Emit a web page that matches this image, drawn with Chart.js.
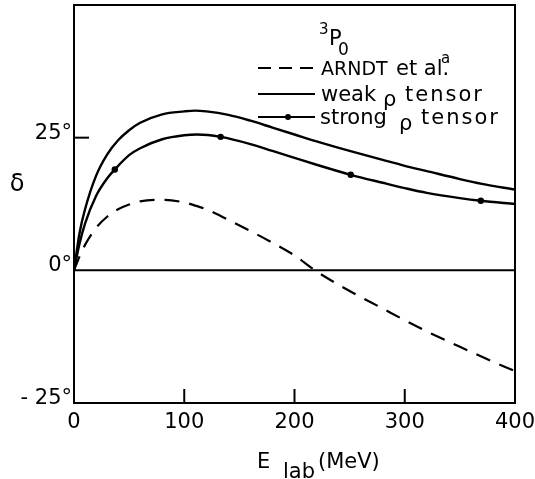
<!DOCTYPE html>
<html>
<head>
<meta charset="utf-8">
<script src="https://cdn.jsdelivr.net/npm/chart.js@4.4.1/dist/chart.umd.min.js"></script>
<style>
  body { margin: 0; background: #fff; }
  canvas { display: block; }
</style>
</head>
<body>
<canvas id="chart" width="535" height="479"></canvas>
<script>
// phase shift delta (deg) vs E_lab (MeV)
const energy = [0, 5, 10, 20, 30, 40, 50, 60, 80, 100, 110, 120, 140, 160, 180, 200, 220, 250, 280, 300, 320, 350, 370, 400];
const arndt = [0, 2.6, 4.8, 8.0, 10.1, 11.5, 12.4, 13.0, 13.3, 12.8, 12.2, 11.5, 9.5, 7.4, 5.2, 2.8, -0.2, -3.9, -7.2, -9.4, -11.5, -14.4, -16.3, -19.0];
const weakTensor = [0, 7.0, 11.5, 17.8, 21.8, 24.5, 26.4, 27.8, 29.4, 29.95, 30.1, 29.95, 29.3, 28.2, 26.9, 25.6, 24.3, 22.5, 20.8, 19.7, 18.7, 17.2, 16.3, 15.2];

const strongEnergy = [0, 5, 10, 20, 30, 37, 50, 60, 80, 100, 112, 133, 160, 180, 200, 220, 251, 280, 300, 320, 350, 369, 400];
const strongTensor = [0, 5.0, 8.8, 14.0, 17.3, 19.0, 21.7, 23.0, 24.7, 25.45, 25.6, 25.15, 23.8, 22.5, 21.2, 19.9, 18.0, 16.5, 15.5, 14.6, 13.6, 13.1, 12.5];
const strongMarks = [37, 133, 251, 369];

const xTicks = [0, 100, 200, 300, 400];
const yTicks = [-25, 0, 25];

const FONT = '"DejaVu Sans", sans-serif';

function pts(xs, ys) {
    return xs.map((x, i) => ({ x: x, y: ys[i] }));
}

// frame, zero line, inward ticks and all the lettering
const figurePlugin = {
    id: 'figure',
    beforeDatasetsDraw(chart) {
        const ctx = chart.ctx;
        const area = chart.chartArea;
        const xs = chart.scales.x;
        const ys = chart.scales.y;
        ctx.save();
        ctx.strokeStyle = '#000';
        ctx.lineWidth = 2;
        // zero line
        const y0 = ys.getPixelForValue(0);
        ctx.beginPath();
        ctx.moveTo(area.left, y0);
        ctx.lineTo(area.right, y0);
        ctx.stroke();
        // x ticks pointing up into the plot
        xTicks.slice(1, -1).forEach(v => {
            const px = xs.getPixelForValue(v);
            ctx.beginPath();
            ctx.moveTo(px, area.bottom);
            ctx.lineTo(px, area.bottom - 14);
            ctx.stroke();
        });
        // y tick at 25
        const y25 = ys.getPixelForValue(25);
        ctx.beginPath();
        ctx.moveTo(area.left, y25);
        ctx.lineTo(area.left + 15, y25);
        ctx.stroke();
        ctx.restore();
    },
    afterDraw(chart) {
        const ctx = chart.ctx;
        const area = chart.chartArea;
        const xs = chart.scales.x;
        const ys = chart.scales.y;
        ctx.save();
        ctx.strokeStyle = '#000';
        ctx.fillStyle = '#000';
        ctx.lineWidth = 2;
        ctx.strokeRect(area.left, area.top, area.right - area.left, area.bottom - area.top);

        ctx.font = '21px ' + FONT;
        ctx.textBaseline = 'alphabetic';
        // tick labels
        ctx.textAlign = 'center';
        xTicks.forEach(v => ctx.fillText(String(v), xs.getPixelForValue(v), 428));
        ctx.textAlign = 'right';
        yTicks.forEach(v => {
            const label = (v < 0 ? '- ' + Math.abs(v) : String(v)) + '°';
            ctx.fillText(label, area.left - 2, ys.getPixelForValue(v) + 1);
        });

        // axis titles
        ctx.textAlign = 'center';
        ctx.font = '24px ' + FONT;
        ctx.fillText('δ', 17, 191);
        ctx.textAlign = 'left';
        ctx.font = '21px ' + FONT;
        ctx.fillText('E', 257, 468);
        ctx.fillText('lab', 283, 478);
        ctx.fillText('(MeV)', 318, 468);

        // 3P0 label
        ctx.font = '15px ' + FONT;
        ctx.fillText('3', 319, 34);
        ctx.font = '21px ' + FONT;
        ctx.fillText('P', 329, 45);
        ctx.font = '17px ' + FONT;
        ctx.fillText('0', 338, 55);

        // legend
        const lx0 = 258, lx1 = 315;
        ctx.lineWidth = 2;
        ctx.setLineDash([13, 8]);
        ctx.beginPath(); ctx.moveTo(lx0, 68); ctx.lineTo(lx1, 68); ctx.stroke();
        ctx.setLineDash([]);
        ctx.beginPath(); ctx.moveTo(lx0, 94); ctx.lineTo(lx1, 94); ctx.stroke();
        ctx.beginPath(); ctx.moveTo(lx0, 117); ctx.lineTo(lx1, 117); ctx.stroke();
        ctx.beginPath(); ctx.arc(288, 117, 3, 0, Math.PI * 2); ctx.fill();

        ctx.font = '19px ' + FONT;
        ctx.fillText('ARNDT', 321, 75);
        ctx.font = '21px ' + FONT;
        ctx.fillText('et al.', 396, 75);
        ctx.font = '15px ' + FONT;
        ctx.fillText('a', 441, 63);
        ctx.font = '21px ' + FONT;
        ctx.fillText('weak', 321, 101);
        ctx.fillText('ρ', 383, 106);
        ctx.letterSpacing = '2px';
        ctx.fillText('tensor', 405, 101);
        ctx.letterSpacing = '0px';
        ctx.fillText('strong', 320, 124);
        ctx.fillText('ρ', 399, 130);
        ctx.letterSpacing = '2px';
        ctx.fillText('tensor', 421, 124);
        ctx.restore();
    }
};

new Chart(document.getElementById('chart').getContext('2d'), {
    type: 'line',
    data: {
        datasets: [
            {
                label: 'ARNDT et al.',
                data: pts(energy, arndt),
                borderColor: '#000',
                borderWidth: 2.2,
                borderDash: [15, 10],
                pointRadius: 0,
                cubicInterpolationMode: 'monotone'
            },
            {
                label: 'weak ρ tensor',
                data: pts(energy, weakTensor),
                borderColor: '#000',
                borderWidth: 2.4,
                pointRadius: 0,
                cubicInterpolationMode: 'monotone'
            },
            {
                label: 'strong ρ tensor',
                data: pts(strongEnergy, strongTensor),
                borderColor: '#000',
                backgroundColor: '#000',
                borderWidth: 2.4,
                pointRadius: c => (c.raw && strongMarks.includes(c.raw.x) ? 3.2 : 0),
                pointBorderWidth: 0,
                cubicInterpolationMode: 'monotone'
            }
        ]
    },
    options: {
        responsive: false,
        animation: false,
        layout: { padding: { left: 74, right: 20, top: 5, bottom: 76 } },
        plugins: { legend: { display: false }, tooltip: { enabled: false } },
        scales: {
            x: { type: 'linear', min: 0, max: 400, display: false },
            y: { type: 'linear', min: -25, max: 50, display: false }
        }
    },
    plugins: [figurePlugin]
});
</script>
</body>
</html>
